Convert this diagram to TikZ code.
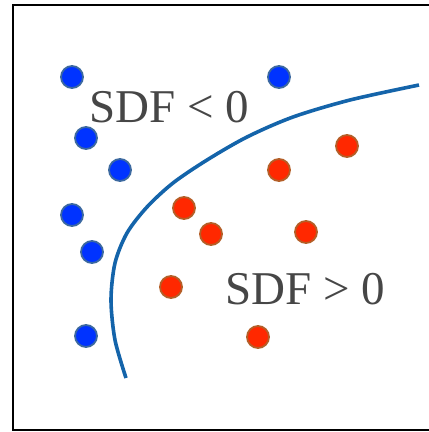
\documentclass[tikz,border=0pt]{standalone}
\usepackage{fontspec}
\setmainfont{Liberation Serif}
\usepackage{xcolor}
\usetikzlibrary{positioning}

\definecolor{inblue}{RGB}{0,51,255}
\definecolor{inedge}{RGB}{60,105,160}
\definecolor{outred}{RGB}{255,40,0}
\definecolor{outedge}{RGB}{180,95,40}
\definecolor{surf}{RGB}{20,100,170}
\definecolor{labelgrey}{RGB}{70,70,70}

\begin{document}
\begin{tikzpicture}[
    x=1pt, y=-1pt,
    inpt/.style={circle, fill=inblue, draw=inedge, line width=1.8pt, minimum size=22pt, inner sep=0pt},
    outpt/.style={circle, fill=outred, draw=outedge, line width=1.8pt, minimum size=22pt, inner sep=0pt},
    sdf/.style={anchor=base west, inner sep=0pt, text=labelgrey, font=\fontsize{47}{47}\selectfont}
]
\useasboundingbox (0,0) rectangle (429,432);
\draw[line width=2pt] (13,5) rectangle (460,430);

% inside points
\node[inpt] (i1) at (72,77) {};
\node[inpt] (i2) at (279,77) {};
\node[inpt] (i3) at (86,138) {};
\node[inpt] (i4) at (120,170) {};
\node[inpt] (i5) at (72,215) {};
\node[inpt] (i6) at (92,252) {};
\node[inpt] (i7) at (86,336) {};

% outside points
\node[outpt] (o1) at (347,146) {};
\node[outpt] (o2) at (279,170) {};
\node[outpt] (o3) at (184,208) {};
\node[outpt] (o4) at (211,234) {};
\node[outpt] (o5) at (306,232) {};
\node[outpt] (o6) at (171,287) {};
\node[outpt] (o7) at (258,337) {};

% zero level set
\draw[surf, line width=3.6pt] plot[smooth, tension=0.5] coordinates {(126,378) (115,340) (111,300) (115,263) (127,233) (147,207) (173,183) (207,160) (247,137) (293,117) (350,100) (419,85)};

\node[sdf] (neg) at (89,122) {SDF < 0};
\node[sdf] (pos) at (225,304) {SDF > 0};
\end{tikzpicture}
\end{document}
